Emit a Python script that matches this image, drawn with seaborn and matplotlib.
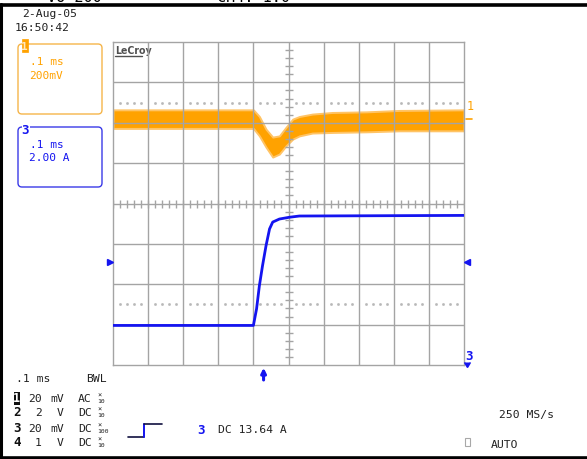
import numpy as np
import pandas as pd
import matplotlib
matplotlib.use("Agg")
import matplotlib.pyplot as plt
import matplotlib.transforms as mtransforms
from matplotlib.patches import FancyBboxPatch, Rectangle
import seaborn as sns

# ---- Channel 1 (AC coupled, 200 mV/div): envelope of the noisy trace ----
ch1_time_us = [-500, -100, -83, -64, -45, -26, -7, 12, 31, 68, 125, 222, 316, 500]
ch1_upper_mV = [46, 46, 13, -50, -89, -83, -40, 0, 13, 25, 33, 36, 43, 46]
ch1_lower_mV = [-46, -46, -83, -139, -188, -173, -132, -99, -83, -69, -66, -63, -58, -58]

# ---- Channel 3 (current probe, 2 A/div) ----
ch3_time_us = [-500, -100, -91, -83, -74, -64, -54, -45, -26, 3, 31, 500]
ch3_current_A = [10.38, 10.38, 11.2, 12.34, 13.34, 14.33, 15.16, 15.5, 15.65, 15.74, 15.8, 15.83]

# ---- scope settings ----
timebase_us = 100          # per division
ch1_scale_mV = 200         # per division
ch1_center_mV = -418       # value at screen centre
ch3_scale_A = 2.0
ch3_center_A = 16.42
trigger_level_A = 13.52
trigger_time_us = -71

ORANGE = "#FFA200"
ORANGE_BOX = "#F5B54A"
BLUE = "#1414F0"
GRID = "#A4A4A4"
W, H = 587, 460

sns.set_theme(style="white")
plt.rcParams["font.family"] = ["DejaVu Sans Mono", "DejaVu Sans"]

fig = plt.figure(figsize=(W / 100, H / 100), dpi=100)
fig.patch.set_facecolor("white")

# overlay in pixel units for the front-panel decorations
ov = fig.add_axes([0, 0, 1, 1], zorder=0)
ov.set_xlim(0, W)
ov.set_ylim(H, 0)
ov.axis("off")

# screen area
gx0, gx1, gy0, gy1 = 113, 464, 43, 366
rect = [gx0 / W, 1 - gy1 / H, (gx1 - gx0) / W, (gy1 - gy0) / H]

ax1 = fig.add_axes(rect, zorder=1)          # channel 1
ax = fig.add_axes(rect, zorder=3)           # graticule
ax3 = fig.add_axes(rect, zorder=4)          # channel 3
for a in (ax1, ax, ax3):
    a.set_xlim(-5 * timebase_us, 5 * timebase_us)
    a.patch.set_visible(False)
    a.set_xticks([]); a.set_yticks([])
    a.set_xlabel(""); a.set_ylabel("")
ax.set_ylim(-4, 4)
ax1.set_ylim(ch1_center_mV - 4 * ch1_scale_mV, ch1_center_mV + 4 * ch1_scale_mV)
ax3.set_ylim(ch3_center_A - 4 * ch3_scale_A, ch3_center_A + 4 * ch3_scale_A)
for a in (ax1, ax3):
    for s in a.spines.values():
        s.set_visible(False)
for s in ax.spines.values():
    s.set_color(GRID); s.set_linewidth(1.0)

# graticule
for xv in np.arange(-400, 401, 100):
    ax.axvline(xv, color=GRID, lw=1.0)
for yv in range(-3, 4):
    ax.axhline(yv, color=GRID, lw=1.0)
minor_x = [v for v in np.arange(-500, 501, 20) if v % 100 != 0]
minor_y = [v for v in np.arange(-4, 4.01, 0.2) if abs(v - round(v)) > 1e-6]
ax.plot(np.arange(-500, 501, 20), np.zeros(51), ls="none", marker="|", ms=5.5, mew=1.0, color=GRID)
ax.plot(np.zeros(len(minor_y)), minor_y, ls="none", marker="_", ms=5.5, mew=1.0, color=GRID)
for yrow in (2.5, -2.5):
    ax.plot(minor_x, np.full(len(minor_x), yrow), ls="none", marker="s", ms=0.9, color="#B8B8B8")

# channel 1 trace (noise band)
ax1.fill_between(ch1_time_us, ch1_lower_mV, ch1_upper_mV, color=ORANGE, lw=1.4, edgecolor="#FFC466")

# channel 3 trace
df3 = pd.DataFrame({"t": ch3_time_us, "i": ch3_current_A})
sns.lineplot(data=df3, x="t", y="i", ax=ax3, color=BLUE, lw=2.0)
ax3.set_xlabel(""); ax3.set_ylabel("")
ax3.set_xlim(-5 * timebase_us, 5 * timebase_us)

# trigger level markers (both edges) and trigger time arrow
blend3 = mtransforms.blended_transform_factory(ax3.transAxes, ax3.transData)
ax3.plot([-0.009], [trigger_level_A], marker=">", ms=5, color=BLUE, transform=blend3, clip_on=False)
ax3.plot([1.009], [trigger_level_A], marker="<", ms=5, color=BLUE, transform=blend3, clip_on=False)
blendt = mtransforms.blended_transform_factory(ax3.transData, ax3.transAxes)
ax3.annotate("", xy=(trigger_time_us, -0.0), xytext=(trigger_time_us, -0.055),
             xycoords=blendt, textcoords=blendt,
             arrowprops=dict(arrowstyle="-|>", color=BLUE, lw=2.2, mutation_scale=7))

# channel ground markers on the right edge
blend1 = mtransforms.blended_transform_factory(ax1.transAxes, ax1.transData)
ax1.text(1.008, 35, "1", color=ORANGE, fontsize=8.5, transform=blend1, ha="left", va="bottom")
ax1.plot([1.006, 1.022], [0, 0], color=ORANGE, lw=1.2, transform=blend1, clip_on=False)
ax3.text(1.004, 0.03, "3", color=BLUE, fontsize=9, fontweight="bold",
         transform=ax3.transAxes, ha="left", va="center")
ax3.plot([1.009], [-0.005], marker=7, ms=4.5, color=BLUE, transform=ax3.transAxes, clip_on=False)

# LeCroy logo
ov.text(115, 51, "LeCroy", fontsize=7.6, fontweight="bold", color="#505050",
        family=["DejaVu Sans"], va="center", ha="left", stretch="condensed")
ov.plot([115, 142], [57, 57], color="#505050", lw=1.0)

mono = dict(color="#202020", fontsize=8.2, va="center", ha="left")

# frame
ov.plot([1, 1], [5, 459], color="black", lw=2.2)
ov.plot([0, W], [5.5, 5.5], color="black", lw=2.6)
ov.plot([0, W], [458.5, 458.5], color="black", lw=2.6)
ov.text(47, 2, "Vo 200", fontsize=11, color="black", va="baseline", ha="left", clip_on=True)
ov.text(217, 2, "CH4: 1.0", fontsize=11, color="black", va="baseline", ha="left", clip_on=True)

# date/time
ov.text(22, 14, "2-Aug-05", **mono)
ov.text(15, 28, "16:50:42", **mono)

# channel 1 box
ov.add_patch(FancyBboxPatch((18, 45), 84, 70, boxstyle="round,pad=0,rounding_size=4",
                            fc="none", ec=ORANGE_BOX, lw=1.0))
ov.add_patch(Rectangle((21.5, 40), 6.5, 13, fc=ORANGE, ec=ORANGE, lw=0.5))
ov.text(24.8, 46.5, "1", color="#FFE8C0", fontsize=8, fontweight="bold", ha="center", va="center")
ov.text(30, 62, ".1 ms", color=ORANGE, fontsize=8, va="center", ha="left")
ov.text(29, 76, "200mV", color=ORANGE, fontsize=8, va="center", ha="left")

# channel 3 box
ov.add_patch(FancyBboxPatch((18, 128), 84, 60, boxstyle="round,pad=0,rounding_size=4",
                            fc="none", ec="#3A3AE8", lw=1.0))
ov.add_patch(Rectangle((21.5, 124), 8, 12, fc="white", ec="none"))
ov.text(25.5, 131, "3", color=BLUE, fontsize=9, fontweight="bold", ha="center", va="center")
ov.text(30, 145, ".1 ms", color=BLUE, fontsize=8, va="center", ha="left")
ov.text(29, 158, "2.00 A", color=BLUE, fontsize=8, va="center", ha="left")

# bottom status panel
ov.text(16, 379, ".1 ms", **mono)
ov.text(86, 379, "BWL", **mono)
rows_y = [399, 413, 429, 443]
row_ch = ["1", "2", "3", "4"]
row_val = ["20", "2", "20", "1"]
row_unit = ["mV", "V", "mV", "V"]
row_cpl = ["AC", "DC", "DC", "DC"]
row_att = ["10", "10", "100", "10"]
for y, c, v, u, cp, at in zip(rows_y, row_ch, row_val, row_unit, row_cpl, row_att):
    if c == "1":
        ov.add_patch(Rectangle((13.5, y - 6.5), 6.5, 13, fc="#101010", ec="none"))
        ov.text(16.7, y, c, color="white", fontsize=8.5, fontweight="bold", ha="center", va="center")
    else:
        ov.text(16.7, y, c, color="#101010", fontsize=9, fontweight="bold", ha="center", va="center")
    ov.text(42, y, v, color="#202020", fontsize=8.2, ha="right", va="center")
    ov.text(50 if u == "mV" else 57, y, u, **mono)
    ov.text(78, y, cp, **mono)
    ov.text(97, y - 3.5, "×", color="#202020", fontsize=5, ha="left", va="center")
    ov.text(97, y + 2.8, at, color="#202020", fontsize=4.6, ha="left", va="center")

# trigger slope icon
ov.plot([128, 144], [437.5, 437.5], color="#101040", lw=1.2)
ov.plot([144, 144], [437.5, 424.8], color=BLUE, lw=1.4)
ov.plot([144, 162], [424.8, 424.8], color="#101040", lw=1.2)
ov.text(200.5, 430.5, "3", color=BLUE, fontsize=9, fontweight="bold", ha="center", va="center")
ov.text(218, 430.5, "DC 13.64 A", **mono)

ov.text(499, 415, "250 MS/s", **mono)
ov.add_patch(Rectangle((464.5, 438.5), 5.5, 8.5, fc="white", ec="#A8A8A8", lw=0.8))
ov.text(491, 445, "AUTO", **mono)

fig.savefig("out.png", dpi=100, facecolor="white")
